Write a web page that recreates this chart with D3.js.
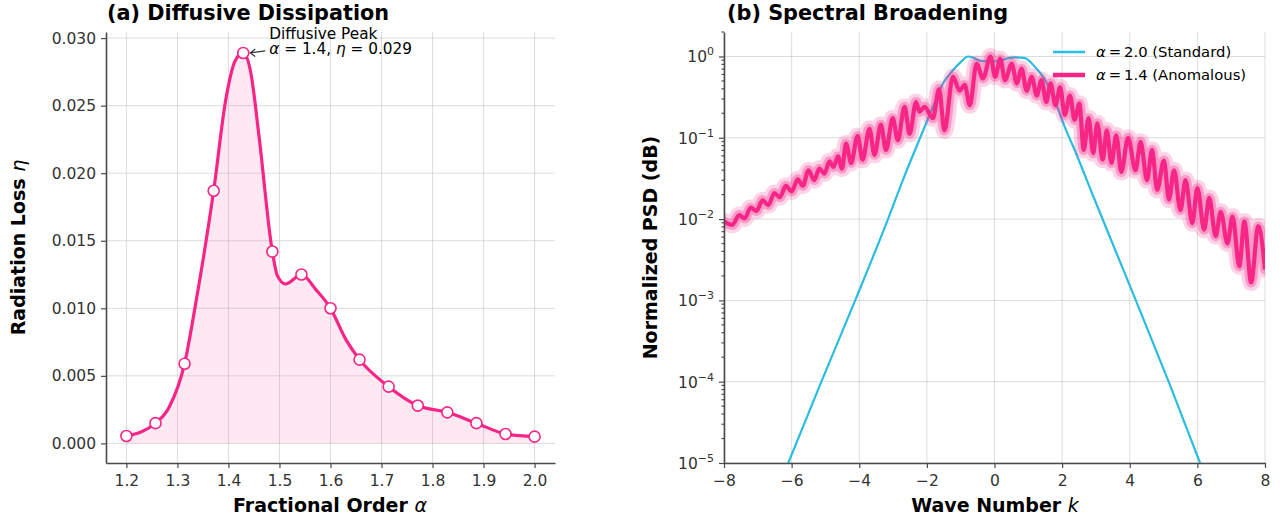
<!DOCTYPE html>
<html>
<head>
<meta charset="utf-8" />
<style>
  body { margin: 0; background: #fff; }
  svg text { font-family: "DejaVu Sans", sans-serif; }
  .grid line { stroke: #b0b0b0; stroke-opacity: 0.55; stroke-width: 0.8; }
  .axis path, .axis line { stroke: #4a4a4a; }
  .axis path { stroke-width: 1.6; }
  .axis line { stroke-width: 1.2; }
  .axis text { fill: #333; font-size: 15.5px; }
  .title { font-size: 20.8px; font-weight: bold; fill: #000; }
  .label { font-size: 19px; font-weight: bold; fill: #000; }
</style>
</head>
<body>
<svg id="chart" width="1280" height="521"></svg>
<script src="https://d3js.org/d3.v7.min.js"></script>
<script>
// (a) radiation loss vs fractional order: markers
const lossAlpha = [1.200, 1.257, 1.314, 1.371, 1.429, 1.486, 1.543, 1.600, 1.657, 1.714, 1.771, 1.829, 1.886, 1.943, 2.000];
const lossEta = [0.00055, 0.0015, 0.0059, 0.0187, 0.0289, 0.0142, 0.0125, 0.0100, 0.0062, 0.0042, 0.0028, 0.0023, 0.0015, 0.0007, 0.0005];
// smooth curve (markers plus in-between points)
const curveAlpha = [1.200, 1.257, 1.284, 1.314, 1.336, 1.371, 1.395, 1.413, 1.429, 1.444, 1.460, 1.486, 1.496, 1.512, 1.543, 1.571, 1.600, 1.630, 1.657, 1.714, 1.771, 1.829, 1.886, 1.943, 2.000];
const curveEta = [0.00055, 0.0015, 0.0027, 0.0059, 0.0104, 0.0187, 0.0255, 0.0283, 0.0289, 0.0274, 0.0227, 0.0142, 0.0124, 0.0118, 0.0125, 0.0114, 0.0100, 0.0077, 0.0062, 0.0042, 0.0028, 0.0023, 0.0015, 0.0007, 0.0005];
const alphaTicks = [1.2, 1.3, 1.4, 1.5, 1.6, 1.7, 1.8, 1.9, 2.0];
const etaTicks = [0, 0.005, 0.010, 0.015, 0.020, 0.025, 0.030];

// (b) spectra
const stdK = [-6.10, -5.12, -4.12, -3.15, -2.71, -2.20, -2.07, -1.80, -1.52, -1.23, -1.00, -0.78, -0.60, -0.44, -0.20, 0.00, 0.20, 0.41, 0.65, 0.90, 1.20, 1.44, 1.78, 2.08, 2.37, 2.96, 4.18, 5.15, 6.08];
const stdPsd = [1e-5, 1e-4, 1e-3, 1e-2, 0.0302, 0.100, 0.135, 0.251, 0.468, 0.676, 0.851, 1.0, 0.955, 0.891, 0.871, 0.871, 0.891, 0.955, 0.977, 0.955, 0.741, 0.562, 0.288, 0.135, 0.0708, 0.0174, 1e-3, 1e-4, 1e-5];

const anoK = [-8.00, -7.75, -7.55, -7.39, -7.21, -7.04, -6.86, -6.69, -6.51, -6.35, -6.17, -6.00, -5.82, -5.67, -5.50, -5.33, -5.18, -5.03, -4.88, -4.76, -4.63, -4.51, -4.39, -4.24, -4.05, -3.90, -3.70, -3.55, -3.36, -3.21, -3.01, -2.86, -2.66, -2.51, -2.32, -2.22, -2.07, -1.82, -1.64, -1.48, -1.23, -1.03, -0.88, -0.73, -0.53, -0.34, -0.12, 0.02, 0.17, 0.31, 0.51, 0.66, 0.80, 0.95, 1.10, 1.25, 1.39, 1.53, 1.66, 1.80, 1.94, 2.08, 2.23, 2.37, 2.51, 2.64, 2.78, 2.92, 3.04, 3.20, 3.32, 3.46, 3.60, 3.75, 3.95, 4.17, 4.32, 4.51, 4.66, 4.81, 5.01, 5.16, 5.31, 5.50, 5.65, 5.85, 6.00, 6.20, 6.35, 6.54, 6.69, 6.89, 7.04, 7.24, 7.39, 7.59, 7.80, 8.00];
const anoPsd = [0.00933, 0.00851, 0.0112, 0.0102, 0.0138, 0.0126, 0.0170, 0.0148, 0.0209, 0.0186, 0.0257, 0.0219, 0.0309, 0.0257, 0.0398, 0.0302, 0.0417, 0.0363, 0.0513, 0.0437, 0.0589, 0.0417, 0.0851, 0.0490, 0.105, 0.0537, 0.129, 0.0617, 0.145, 0.0708, 0.174, 0.0933, 0.240, 0.112, 0.275, 0.209, 0.240, 0.174, 0.398, 0.123, 0.562, 0.380, 0.447, 0.251, 0.813, 0.537, 1.00, 0.562, 0.933, 0.513, 0.813, 0.468, 0.708, 0.380, 0.562, 0.331, 0.513, 0.275, 0.468, 0.251, 0.417, 0.191, 0.331, 0.166, 0.263, 0.0708, 0.174, 0.0646, 0.151, 0.0537, 0.123, 0.0490, 0.107, 0.0380, 0.100, 0.0398, 0.0891, 0.0302, 0.0708, 0.0229, 0.0525, 0.0174, 0.0398, 0.0129, 0.0302, 0.00891, 0.0240, 0.00741, 0.0182, 0.00617, 0.0123, 0.00501, 0.0107, 0.00263, 0.00933, 0.00166, 0.00813, 0.00240];
const kTicks = [-8, -6, -4, -2, 0, 2, 4, 6, 8];
const psdExps = [-5, -4, -3, -2, -1, 0];

const pink = "#f72585";
const blue = "#2bbde0";
const minus = (s) => String(s).replace("-", "\u2212");

const svg = d3.select("#chart");
const plotTop = 32, plotBottom = 463;

// ---------- panel (a) ----------
const xA = d3.scaleLinear().domain([1.16, 2.04]).range([106, 555]);
const yA = d3.scaleLinear().domain([-0.00145, 0.03045]).range([plotBottom, plotTop]);

const gA = svg.append("g");
const gridA = gA.append("g").attr("class", "grid");
gridA.selectAll(".gx").data(alphaTicks).join("line")
  .attr("x1", (d) => xA(d)).attr("x2", (d) => xA(d)).attr("y1", plotTop).attr("y2", plotBottom);
gridA.selectAll(".gy").data(etaTicks).join("line")
  .attr("x1", 106).attr("x2", 555).attr("y1", (d) => yA(d)).attr("y2", (d) => yA(d));

const curvePts = curveAlpha.map((a, i) => [a, curveEta[i]]);
gA.append("path").datum(curvePts)
  .attr("fill", pink).attr("fill-opacity", 0.1)
  .attr("d", d3.area().x((d) => xA(d[0])).y0(yA(0)).y1((d) => yA(d[1])).curve(d3.curveMonotoneX));
gA.append("path").datum(curvePts)
  .attr("fill", "none").attr("stroke", pink).attr("stroke-width", 3.2)
  .attr("d", d3.line().x((d) => xA(d[0])).y((d) => yA(d[1])).curve(d3.curveMonotoneX));
gA.selectAll(".mk").data(lossAlpha).join("circle")
  .attr("cx", (d) => xA(d)).attr("cy", (d, i) => yA(lossEta[i])).attr("r", 5.5)
  .attr("fill", "#fff").attr("stroke", pink).attr("stroke-width", 1.6);

gA.append("g").attr("class", "axis").attr("transform", `translate(0,${plotBottom})`)
  .call(d3.axisBottom(xA).tickValues(alphaTicks).tickFormat(d3.format(".1f")).tickSize(5).tickSizeOuter(0).tickPadding(7));
gA.append("g").attr("class", "axis").attr("transform", "translate(106,0)")
  .call(d3.axisLeft(yA).tickValues(etaTicks).tickFormat(d3.format(".3f")).tickSize(5).tickSizeOuter(0).tickPadding(5));

// peak annotation
const peakI = lossEta.indexOf(d3.max(lossEta));
const px = xA(lossAlpha[peakI]), py = yA(lossEta[peakI]);
gA.append("path")
  .attr("d", `M${px + 22},${py - 2}L${px + 7},${py}M${px + 12},${py - 4}L${px + 7},${py}L${px + 12},${py + 3.5}`)
  .attr("fill", "none").attr("stroke", "#333").attr("stroke-width", 1.2);
const ann = gA.append("text").attr("x", px + 26).attr("y", py - 14).attr("font-size", 15.3).attr("fill", "#000");
ann.append("tspan").attr("x", px + 26).text("Diffusive Peak");
const l2 = ann.append("tspan").attr("x", px + 26).attr("dy", 15.5);
l2.append("tspan").attr("font-style", "italic").text("\u03b1");
l2.append("tspan").text(` = ${lossAlpha[peakI].toFixed(1)}, `);
l2.append("tspan").attr("font-style", "italic").text("\u03b7");
l2.append("tspan").text(` = ${lossEta[peakI].toFixed(3)}`);

gA.append("text").attr("class", "title").attr("x", 107).attr("y", 20).text("(a) Diffusive Dissipation");
const xlA = gA.append("text").attr("class", "label").attr("x", 330).attr("y", 512).attr("text-anchor", "middle");
xlA.append("tspan").text("Fractional Order ");
xlA.append("tspan").attr("font-style", "italic").attr("font-weight", "normal").text("\u03b1");
const ylA = gA.append("text").attr("class", "label").attr("text-anchor", "middle")
  .attr("transform", `translate(25,${(plotTop + plotBottom) / 2}) rotate(-90)`);
ylA.append("tspan").text("Radiation Loss ");
ylA.append("tspan").attr("font-style", "italic").attr("font-weight", "normal").text("\u03b7");

// ---------- panel (b) ----------
const xB = d3.scaleLinear().domain([-8, 8]).range([724, 1265]);
const yB = d3.scaleLog().domain([1e-5, 2]).range([plotBottom, plotTop]);

const gB = svg.append("g");
const gridB = gB.append("g").attr("class", "grid");
gridB.selectAll(".gx").data(kTicks).join("line")
  .attr("x1", (d) => xB(d)).attr("x2", (d) => xB(d)).attr("y1", plotTop).attr("y2", plotBottom);
gridB.selectAll(".gy").data(psdExps).join("line")
  .attr("x1", 724).attr("x2", 1265).attr("y1", (d) => yB(Math.pow(10, d))).attr("y2", (d) => yB(Math.pow(10, d)));

svg.append("clipPath").attr("id", "clipB").append("rect")
  .attr("x", 724).attr("y", plotTop).attr("width", 541).attr("height", plotBottom - plotTop);
const plotB = gB.append("g").attr("clip-path", "url(#clipB)");

const lineB = d3.line().x((d) => xB(d[0])).y((d) => yB(d[1]));
plotB.append("path").datum(stdK.map((k, i) => [k, stdPsd[i]]))
  .attr("fill", "none").attr("stroke", blue).attr("stroke-width", 2.2)
  .attr("d", lineB.curve(d3.curveMonotoneX));

const anoPts = anoK.map((k, i) => [k, anoPsd[i]]);
const anoLine = d3.line().x((d) => xB(d[0])).y((d) => yB(d[1])).curve(d3.curveMonotoneX);
[[17, 0.2], [10, 0.32]].forEach(([w, o]) => {
  plotB.append("path").datum(anoPts)
    .attr("fill", "none").attr("stroke", pink).attr("stroke-width", w).attr("stroke-opacity", o)
    .attr("stroke-linejoin", "round").attr("stroke-linecap", "round").attr("d", anoLine);
});
plotB.append("path").datum(anoPts)
  .attr("fill", "none").attr("stroke", pink).attr("stroke-width", 4.2)
  .attr("stroke-linejoin", "round").attr("d", anoLine);

gB.append("g").attr("class", "axis").attr("transform", `translate(0,${plotBottom})`)
  .call(d3.axisBottom(xB).tickValues(kTicks).tickFormat(minus).tickSize(5).tickSizeOuter(0).tickPadding(7));

const yAxisB = gB.append("g").attr("class", "axis").attr("transform", "translate(724,0)")
  .call(d3.axisLeft(yB).tickValues(psdExps.map((e) => Math.pow(10, e))).tickFormat("").tickSize(5).tickSizeOuter(0));
// minor ticks
const minors = [];
psdExps.forEach((e) => { for (let m = 2; m <= 9; m++) { const v = m * Math.pow(10, e); if (v <= 2) minors.push(v); } });
yAxisB.selectAll(".minor").data(minors).join("line")
  .attr("x1", -2.5).attr("x2", 0).attr("y1", (d) => yB(d)).attr("y2", (d) => yB(d))
  .attr("stroke", "#4a4a4a").attr("stroke-width", 0.9);
yAxisB.selectAll(".lbl").data(psdExps).join("text")
  .attr("x", -10).attr("y", (d) => yB(Math.pow(10, d)) + 6).attr("text-anchor", "end")
  .each(function (d) {
    const t = d3.select(this);
    t.append("tspan").text("10");
    t.append("tspan").attr("dy", -7).attr("font-size", 11).text(minus(d));
  });

// legend
const legend = gB.append("g");
[["2.0", " (Standard)", blue, 2.5], ["1.4", " (Anomalous)", pink, 4.5]].forEach(([a, tag, c, w], i) => {
  const y = 52 + i * 23;
  legend.append("line").attr("x1", 1053).attr("x2", 1085).attr("y1", y).attr("y2", y)
    .attr("stroke", c).attr("stroke-width", w);
  const t = legend.append("text").attr("x", 1096).attr("y", y + 5).attr("font-size", 14.8).attr("fill", "#000");
  t.append("tspan").attr("font-style", "italic").text("\u03b1");
  t.append("tspan").text("\u2009=\u2009" + a + tag);
});

gB.append("text").attr("class", "title").attr("x", 727).attr("y", 20).text("(b) Spectral Broadening");
const xlB = gB.append("text").attr("class", "label").attr("x", 995).attr("y", 512).attr("text-anchor", "middle");
xlB.append("tspan").text("Wave Number ");
xlB.append("tspan").attr("font-style", "italic").attr("font-weight", "normal").text("k");
gB.append("text").attr("class", "label").attr("text-anchor", "middle")
  .attr("transform", `translate(657,${(plotTop + plotBottom) / 2}) rotate(-90)`)
  .text("Normalized PSD (dB)");
</script>
</body>
</html>
